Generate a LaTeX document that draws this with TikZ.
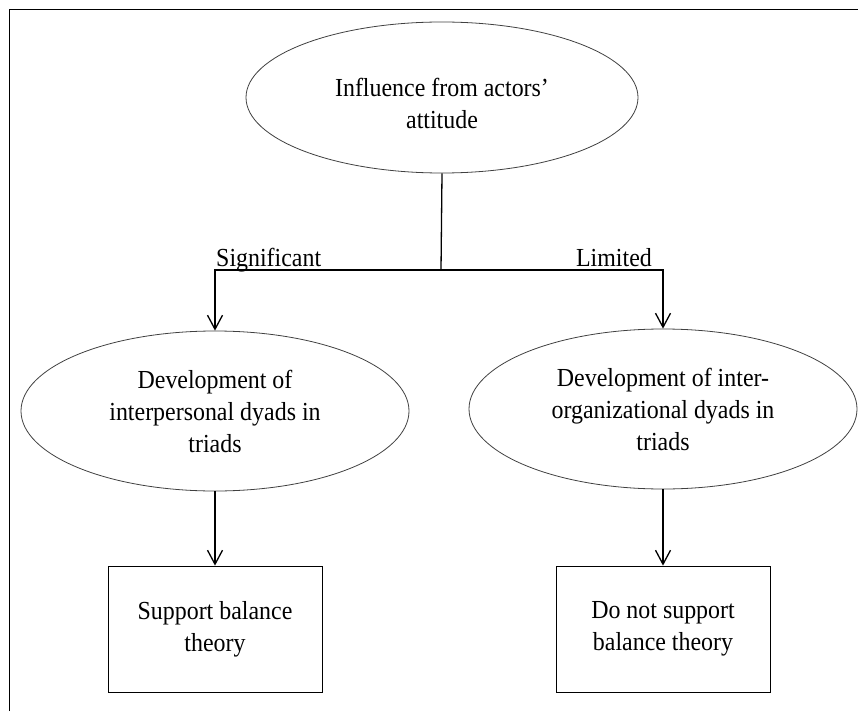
\documentclass[tikz,border=0pt]{standalone}
\usepackage{fontspec}
\setmainfont{Liberation Serif}[FakeStretch=0.92]
\usetikzlibrary{shapes.geometric,arrows.meta,positioning}
\tikzset{
    oval/.style={draw=black!75,ellipse,line width=0.8pt,minimum width=388pt,minimum height=160pt,inner sep=0pt},
    boite/.style={draw,line width=0.8pt,minimum width=214pt,minimum height=126pt,inner sep=0pt},
    texte/.style={align=center,inner sep=0pt,font=\fontsize{26}{32}\selectfont},
    trait/.style={line width=1.3pt},
    fleche/.style={trait,-{Straight Barb[length=14pt,width=15pt,line width=1.3pt]}},
  }
\begin{document}
\begin{tikzpicture}[x=1pt,y=-1pt]
				  %cadre (haut et gauche seulement)
				  \useasboundingbox (0,0) rectangle (858,711);
				  \draw[line width=0.9pt] (9,711) -- (9,9) -- (858,9);
				  %points de depart
				  \coordinate (I) at (442,97.5);
				  \coordinate (J) at (441,270);
				  \coordinate (D1) at (215,411);
				  \coordinate (D2) at (663,409);
				  \coordinate (S1) at (215,629);
				  \coordinate (S2) at (663,629);
				  %ellipses
				  \node[oval,minimum width=392pt,minimum height=151pt] (infl) at (I) {};
				  \node[texte,yshift=-6pt] at (infl) {Influence from actors'\\attitude};
				  \node[oval] (dev1) at (D1) {};
				  \node[texte] at (dev1) {Development of\\interpersonal dyads in\\triads};
				  \node[oval] (dev2) at (D2) {};
				  \node[texte] at (dev2) {Development of inter-\\organizational dyads in\\triads};
				  %boites
				  \node[boite,texte] (sup1) at (S1) {Support balance\\theory};
				  \node[boite,texte] (sup2) at (S2) {Do not support\\balance theory};
				  %branches
				  \draw[trait] (infl.south) -- (J);
				  \draw[fleche] (J) -| (dev1.north);
				  \draw[fleche] (J) -| (dev2.north);
				  \node[texte,anchor=base west] (sig) at (216,266) {Significant};
				  \node[texte,anchor=base east] (lim) at (652,266) {Limited};
				  \draw[fleche] (dev1.south) -- (sup1.north);
				  \draw[fleche] (dev2.south) -- (sup2.north);
\end{tikzpicture}
\end{document}
